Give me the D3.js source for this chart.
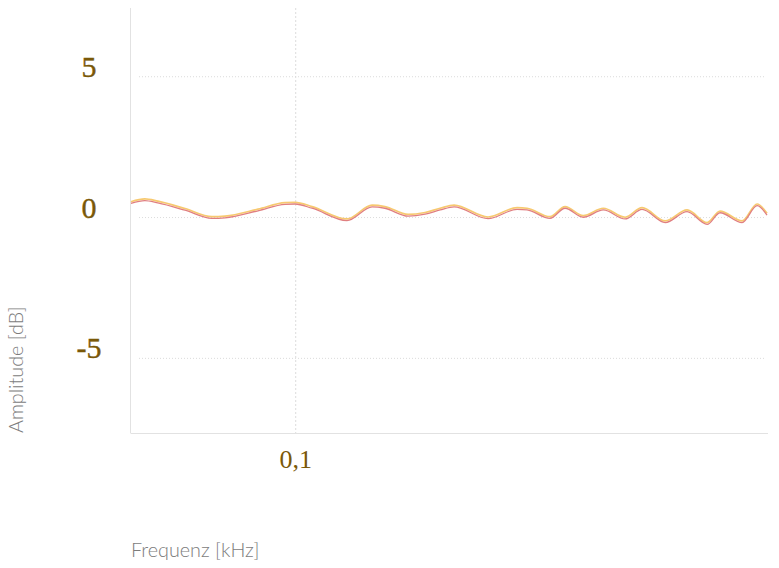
<!DOCTYPE html>
<html>
<head>
<meta charset="utf-8">
<script src="https://cdn.jsdelivr.net/npm/d3@7"></script>
<style>
  html, body { margin: 0; padding: 0; background: #fff; }
  svg { display: block; }
</style>
</head>
<body>
<svg id="chart" width="779" height="568"></svg>
<script>
// ---- data ----
const freqs = [0.02, 0.0229, 0.026, 0.0339, 0.0441, 0.0501, 0.0692, 0.0901, 0.0993, 0.1173,
  0.165, 0.211, 0.239, 0.300, 0.354, 0.410, 0.47, 0.655, 0.870, 0.959,
  1.20, 1.39, 1.66, 2.02, 2.50, 2.95, 3.70, 4.58, 5.57, 6.32, 7.84, 9.08, 10];
const seriesRed = [0.50, 0.60, 0.52, 0.26, -0.03, -0.01, 0.24, 0.47, 0.48, 0.33,
  -0.11, 0.38, 0.33, 0.05, 0.12, 0.27, 0.38, -0.04, 0.29, 0.27,
  -0.03, 0.33, 0.01, 0.27, -0.05, 0.29, -0.18, 0.21, -0.24, 0.17, -0.18, 0.42, 0.09];
const seriesYellow = [0.56, 0.66, 0.58, 0.32, 0.03, 0.05, 0.30, 0.53, 0.54, 0.39,
  -0.05, 0.44, 0.39, 0.11, 0.18, 0.33, 0.44, 0.02, 0.35, 0.33,
  0.03, 0.39, 0.07, 0.33, 0.01, 0.35, -0.12, 0.27, -0.18, 0.23, -0.12, 0.48, 0.15];
const yTicks = [5, 0, -5];
const yTickLabels = ["5", "0", "-5"];
const xTicks = [0.1];
const xTickLabels = ["0,1"];
const xDomain = [0.02, 10];
const yDomain = [-7.65, 7.44];
const xTitle = "Frequenz [kHz]";
const yTitle = "Amplitude [dB]";

// ---- layout ----
const svg = d3.select("#chart");
const mLeft = 131, mRight = 767, mTop = 8, mBottom = 433;
const x = d3.scaleLog().domain(xDomain).range([mLeft, mRight]);
const y = d3.scaleLinear().domain(yDomain).range([mBottom, mTop]);

const gridColor = "#dcdcdc";
const labelColor = "#7a5808";

// horizontal gridlines (dotted)
svg.append("g").selectAll("line").data(yTicks).join("line")
  .attr("x1", mLeft + 8).attr("x2", mRight - 1)
  .attr("y1", d => y(d)).attr("y2", d => y(d))
  .attr("stroke", gridColor).attr("stroke-width", 1)
  .attr("stroke-dasharray", "1,2");

// vertical gridline (dashed)
svg.append("g").selectAll("line").data(xTicks).join("line")
  .attr("x1", d => x(d)).attr("x2", d => x(d))
  .attr("y1", mTop).attr("y2", mBottom)
  .attr("stroke", gridColor).attr("stroke-width", 1)
  .attr("stroke-dasharray", "2,2");

// axes lines
svg.append("line").attr("x1", mLeft - 0.5).attr("x2", mLeft - 0.5)
  .attr("y1", mTop).attr("y2", mBottom)
  .attr("stroke", "#e2e2e2").attr("stroke-width", 1);
svg.append("line").attr("x1", mLeft - 0.5).attr("x2", mRight + 1)
  .attr("y1", mBottom + 0.5).attr("y2", mBottom + 0.5)
  .attr("stroke", "#e2e2e2").attr("stroke-width", 1);

// y tick labels
svg.append("g").selectAll("text").data(yTicks).join("text")
  .attr("x", 89).attr("y", d => y(d))
  .attr("text-anchor", "middle")
  .attr("font-family", "'Liberation Serif', 'DejaVu Serif', serif")
  .attr("font-size", 30)
  .attr("stroke", labelColor).attr("stroke-width", 0.4)
  .attr("fill", labelColor)
  .text((d, i) => yTickLabels[i]);

// x tick labels
svg.append("g").selectAll("text").data(xTicks).join("text")
  .attr("x", d => x(d)).attr("y", 468)
  .attr("text-anchor", "middle")
  .attr("font-family", "'Liberation Serif', 'DejaVu Serif', serif")
  .attr("font-size", 26)
  .attr("fill", labelColor)
  .text((d, i) => xTickLabels[i]);

// lines
const pts = s => freqs.map((f, i) => [f, s[i]]);
const line = d3.line().x(d => x(d[0])).y(d => y(d[1])).curve(d3.curveMonotoneX);

svg.append("path").datum(pts(seriesYellow))
  .attr("d", line).attr("fill", "none")
  .attr("stroke", "#f7c970").attr("stroke-width", 1.7);
svg.append("path").datum(pts(seriesRed))
  .attr("d", line).attr("fill", "none")
  .attr("stroke", "#e07f80").attr("stroke-width", 1.3);

// axis titles
svg.append("text")
  .attr("x", 131).attr("y", 557)
  .attr("font-family", "Lato, 'Open Sans', sans-serif")
  .attr("font-weight", 300)
  .attr("font-size", 19.8)
  .attr("fill", "#7c7c7c")
  .text(xTitle);

svg.append("text")
  .attr("transform", "translate(23,433) rotate(-90)")
  .attr("font-family", "Lato, 'Open Sans', sans-serif")
  .attr("font-weight", 300)
  .attr("font-size", 19.8)
  .attr("fill", "#7c7c7c")
  .text(yTitle);
</script>
</body>
</html>
